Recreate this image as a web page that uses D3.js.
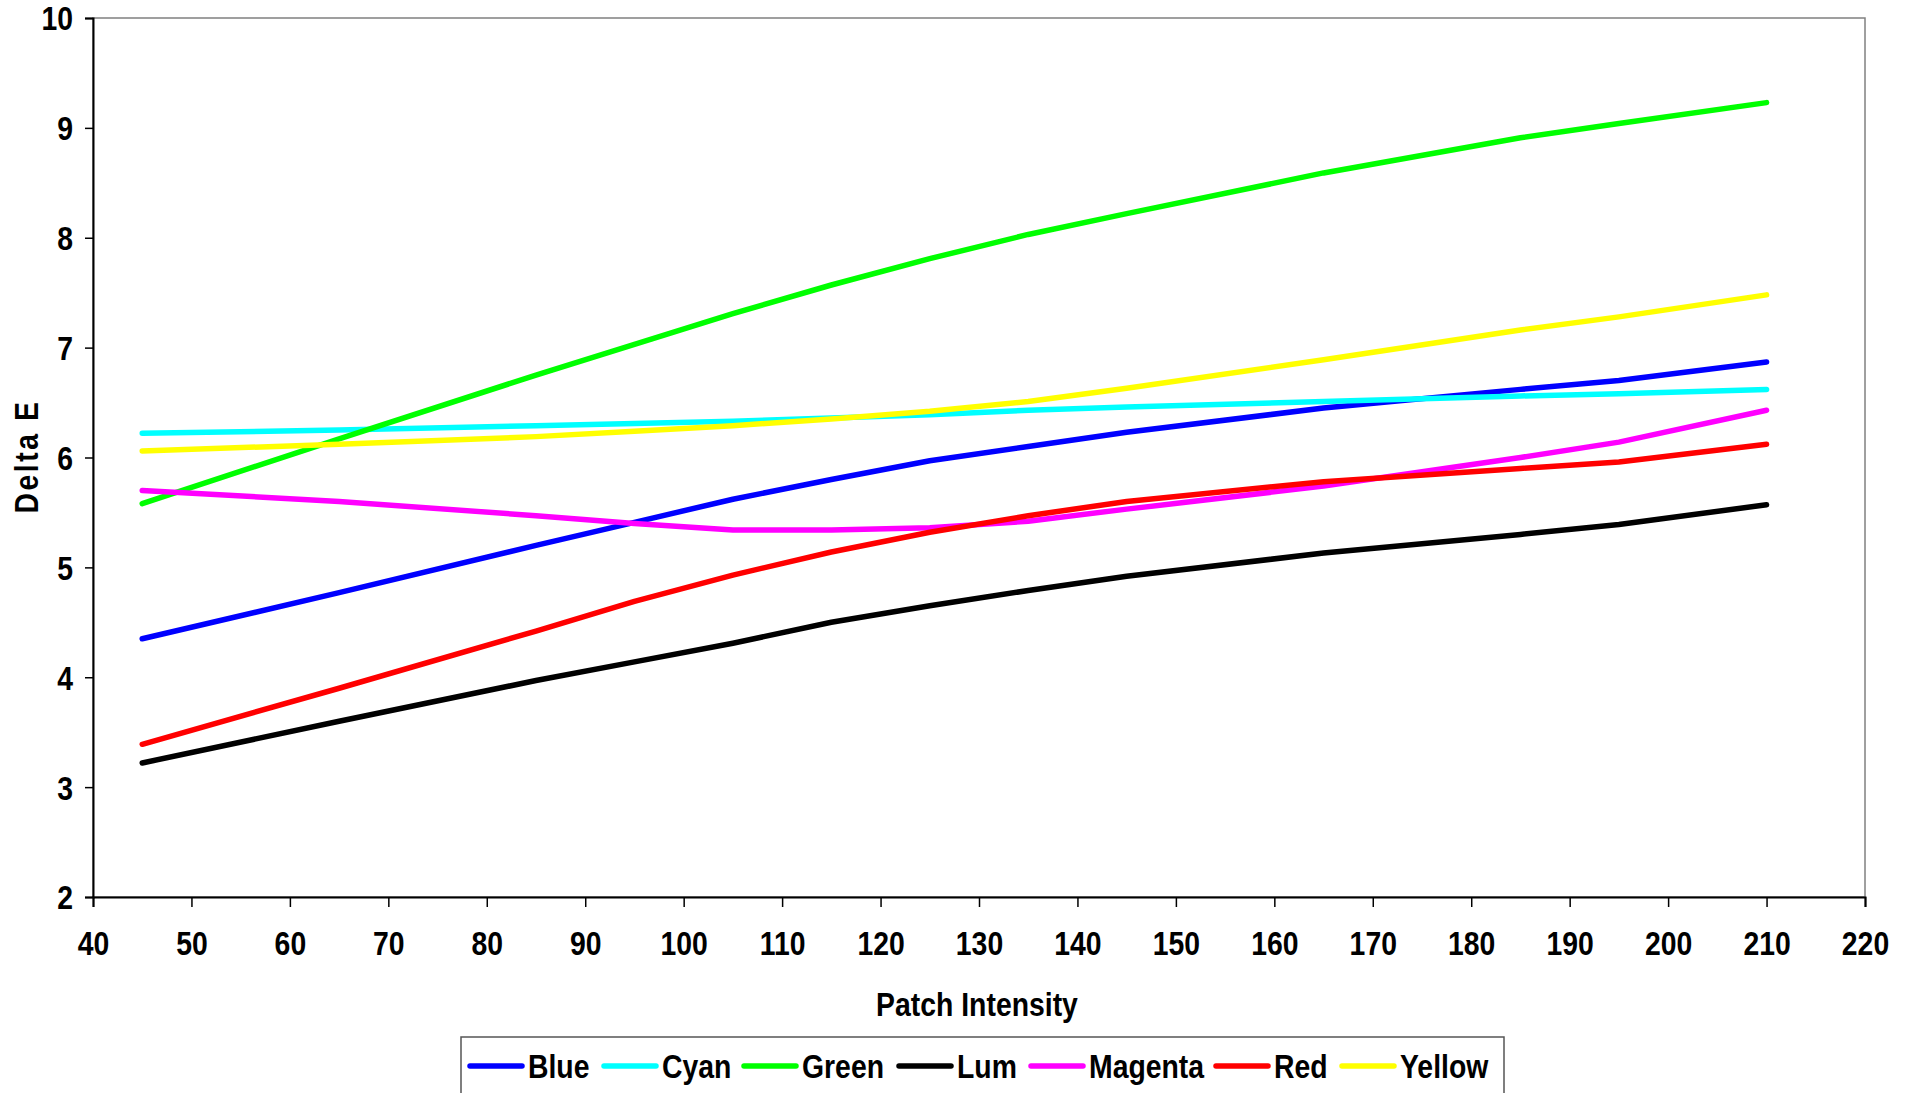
<!DOCTYPE html>
<html>
<head>
<meta charset="utf-8">
<script src="https://cdn.jsdelivr.net/npm/d3@7"></script>
<style>
  html, body { margin: 0; padding: 0; background: #fff; }
  svg text { font-family: "Liberation Sans", Arial, sans-serif; font-weight: bold; fill: #000; }
</style>
</head>
<body>
<svg id="chart" width="1913" height="1093"></svg>
<script>
// Patch intensity samples
const intensity = [45, 65, 85, 95, 105, 115, 125, 135, 145, 165, 185, 195, 210];

// Delta E per channel
const blue    = [4.35, 4.77, 5.20, 5.41, 5.62, 5.80, 5.97, 6.10, 6.23, 6.45, 6.62, 6.70, 6.87];
const cyan    = [6.22, 6.25, 6.29, 6.31, 6.33, 6.36, 6.39, 6.43, 6.46, 6.51, 6.56, 6.58, 6.62];
const green   = [5.58, 6.17, 6.75, 7.03, 7.31, 7.57, 7.81, 8.03, 8.22, 8.59, 8.91, 9.04, 9.23];
const lum     = [3.22, 3.60, 3.97, 4.14, 4.31, 4.50, 4.65, 4.79, 4.92, 5.13, 5.30, 5.39, 5.57];
const magenta = [5.70, 5.60, 5.47, 5.40, 5.34, 5.34, 5.36, 5.42, 5.53, 5.74, 6.00, 6.14, 6.43];
const red     = [3.39, 3.90, 4.42, 4.69, 4.93, 5.14, 5.32, 5.47, 5.60, 5.78, 5.90, 5.96, 6.12];
const yellow  = [6.06, 6.12, 6.19, 6.24, 6.29, 6.35, 6.42, 6.51, 6.63, 6.89, 7.16, 7.28, 7.48];

const seriesNames  = ["Blue", "Cyan", "Green", "Lum", "Magenta", "Red", "Yellow"];
const seriesValues = [blue, cyan, green, lum, magenta, red, yellow];
const seriesColors = ["#0000FF", "#00FFFF", "#00FF00", "#000000", "#FF00FF", "#FF0000", "#FFFF00"];

const xTicks = [40, 50, 60, 70, 80, 90, 100, 110, 120, 130, 140, 150, 160, 170, 180, 190, 200, 210, 220];
const yTicks = [2, 3, 4, 5, 6, 7, 8, 9, 10];

const plot = { left: 93, right: 1865, top: 18, bottom: 897 };
const FONT = 33;      // label size
const NARROW = 0.86;  // horizontal squeeze for a condensed look

const svg = d3.select("#chart");
const x = d3.scaleLinear().domain([40, 220]).range([plot.left, plot.right]);
const y = d3.scaleLinear().domain([2, 10]).range([plot.bottom, plot.top]);

// squeeze a text horizontally about its own anchor point
function condense(sel) {
  sel.each(function () {
    const t = d3.select(this);
    const tx = +t.attr("x") || 0;
    t.attr("x", tx / NARROW).attr("transform", `scale(${NARROW},1)`);
  });
}

// plot area frame (top / right)
svg.append("rect")
  .attr("x", plot.left).attr("y", plot.top)
  .attr("width", plot.right - plot.left).attr("height", plot.bottom - plot.top)
  .attr("fill", "none").attr("stroke", "#808080").attr("stroke-width", 1.5);

// y axis
const yAxis = svg.append("g")
  .attr("transform", `translate(${plot.left},0)`)
  .call(d3.axisLeft(y).tickValues(yTicks).tickSize(8).tickPadding(12).tickFormat(d3.format("d")));
yAxis.select(".domain").attr("stroke", "#000").attr("stroke-width", 2);
yAxis.selectAll(".tick line").attr("stroke", "#000").attr("stroke-width", 1.5);
yAxis.selectAll(".tick text").style("font-size", FONT + "px").attr("dy", "0.36em").call(condense);

// x axis
const xAxis = svg.append("g")
  .attr("transform", `translate(0,${plot.bottom})`)
  .call(d3.axisBottom(x).tickValues(xTicks).tickSize(10).tickPadding(25).tickFormat(d3.format("d")));
xAxis.select(".domain").attr("stroke", "#000").attr("stroke-width", 2);
xAxis.selectAll(".tick line").attr("stroke", "#000").attr("stroke-width", 1.5);
xAxis.selectAll(".tick text").style("font-size", FONT + "px").call(condense);

// axis titles
svg.append("g")
  .attr("transform", `translate(${(plot.left + plot.right) / 2 - 2},1016) scale(${NARROW},1)`)
  .append("text")
  .attr("text-anchor", "middle").style("font-size", FONT + "px")
  .text("Patch Intensity");

svg.append("g")
  .attr("transform", `translate(38,${(plot.top + plot.bottom) / 2 - 1}) rotate(-90) scale(${NARROW},1)`)
  .append("text")
  .attr("text-anchor", "middle").style("font-size", FONT + "px")
  .style("letter-spacing", "3px")
  .text("Delta E");

// series lines
const line = d3.line()
  .x((d, i) => x(intensity[i]))
  .y(d => y(d));

svg.append("g").selectAll("path")
  .data(seriesValues)
  .join("path")
  .attr("d", line)
  .attr("fill", "none")
  .attr("stroke", (d, i) => seriesColors[i])
  .attr("stroke-width", 5.5)
  .attr("stroke-linecap", "round")
  .attr("stroke-linejoin", "round");

// legend
const legend = svg.append("g");
legend.append("rect")
  .attr("x", 461).attr("y", 1037).attr("width", 1043).attr("height", 80)
  .attr("fill", "#fff").attr("stroke", "#555").attr("stroke-width", 1.5);

const legendX = [470, 604, 744, 899, 1031, 1216, 1342];
seriesNames.forEach((name, i) => {
  const g = legend.append("g").attr("transform", `translate(${legendX[i]},1066)`);
  g.append("line")
    .attr("x1", 0).attr("x2", 52).attr("y1", 0).attr("y2", 0)
    .attr("stroke", seriesColors[i]).attr("stroke-width", 5.5).attr("stroke-linecap", "round");
  g.append("g")
    .attr("transform", `translate(58,12) scale(${NARROW},1)`)
    .append("text")
    .style("font-size", FONT + "px")
    .text(name);
});
</script>
</body>
</html>
